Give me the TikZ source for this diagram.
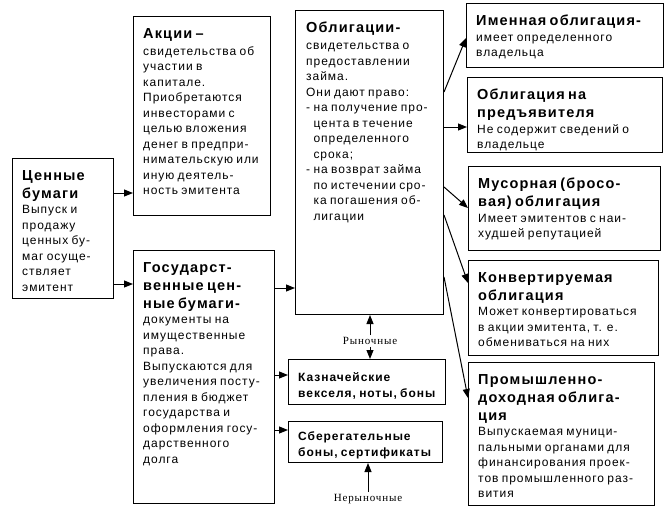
\documentclass[tikz,border=0pt]{standalone}
\usepackage{fontspec}
\setmainfont{Liberation Sans}[LetterSpace=8]
\newfontfamily\serfont{Liberation Serif}[LetterSpace=8]
\usetikzlibrary{arrows.meta}
\newcommand\ttl{\bfseries\fontsize{14.5}{18}\selectfont}
\newcommand\bdy{\normalfont\fontsize{12}{15.5}\selectfont}
\newcommand\bld{\bfseries\fontsize{12}{16}\selectfont}
\newcommand\ind{\hphantom{-\ }}
\tikzset{
  box/.style n args={2}{draw, line width=1pt, anchor=north west, inner sep=0pt,
    minimum width=#1, minimum height=#2},
  txt/.style={anchor=north west, inner sep=0pt, text width=300pt, align=left},
  arr/.style={line width=1pt, -{Triangle[length=9pt,width=7pt]}},
  lbl/.style={inner sep=2pt, font=\serfont\fontsize{11}{13}\selectfont},
}
\begin{document}
\begin{tikzpicture}[x=1pt,y=-1pt]
\useasboundingbox[fill=white] (0,0) rectangle (666,507);
% boxes
\node[box={101pt}{140pt}] (a) at (12,158) {};
\node[box={137pt}{199pt}] (b) at (133,16) {};
\node[box={141pt}{253pt}] (c) at (133,250) {};
\node[box={148pt}{304pt}] (d) at (295,10) {};
\node[box={157pt}{45pt}] (e) at (288,359) {};
\node[box={154pt}{41pt}] (f) at (288,421) {};
\node[box={197pt}{64pt}] (g) at (466,3) {};
\node[box={195pt}{75pt}] (h) at (467,77) {};
\node[box={192pt}{84pt}] (i) at (468,166) {};
\node[box={190pt}{95pt}] (j) at (468,260) {};
\node[box={186pt}{143pt}] (k) at (468,362) {};
% texts
\node[txt] (at) at ([shift={(10pt,-12pt)}]a.north west)
 {{\ttl Ценные\\бумаги\par}{\bdy Выпуск и\\продажу\\ценных бу-\\маг осуще-\\ствляет\\эмитент\par}};
\node[txt] (bt) at ([shift={(10pt,-12pt)}]b.north west)
 {{\ttl Акции –\par}{\bdy\vspace{1.5pt}свидетельства об\\участии в\\капитале.\\Приобретаются\\инвесторами с\\целью вложения\\денег в предпри-\\нимательскую или\\иную деятель-\\ность эмитента\par}};
\node[txt] (ct) at ([shift={(10pt,-12pt)}]c.north west)
 {{\ttl Государст-\\венные цен-\\ные бумаги-\par}{\bdy документы на\\имущественные\\права.\\Выпускаются для\\увеличения посту-\\пления в бюджет\\государства и\\оформления госу-\\дарственного\\долга\par}};
\node[txt] (dt) at ([shift={(11pt,-12pt)}]d.north west)
 {{\ttl Облигации-\par}{\bdy\vspace{1.5pt}свидетельства о\\предоставлении\\займа.\\Они дают право:\\- на получение про-\\\ind цента в течение\\\ind определенного\\\ind срока;\\- на возврат займа\\\ind по истечении сро-\\\ind ка погашения об-\\\ind лигации\par}};
\node[txt] (et) at ([shift={(10pt,-13pt)}]e.north west)
 {{\bld Казначейские\\векселя, ноты, боны\par}};
\node[txt] (ft) at ([shift={(10pt,-10pt)}]f.north west)
 {{\bld Сберегательные\\боны, сертификаты\par}};
\node[txt] (gt) at ([shift={(10pt,-12pt)}]g.north west)
 {{\ttl Именная облигация-\par}{\bdy имеет определенного\\владельца\par}};
\node[txt] (ht) at ([shift={(10pt,-12pt)}]h.north west)
 {{\ttl Облигация на\\предъявителя\par}{\bdy Не содержит сведений о\\владельце\par}};
\node[txt] (it) at ([shift={(10pt,-12pt)}]i.north west)
 {{\ttl Мусорная (бросо-\\вая) облигация\par}{\bdy Имеет эмитентов с наи-\\худшей репутацией\par}};
\node[txt] (jt) at ([shift={(10pt,-12pt)}]j.north west)
 {{\ttl Конвертируемая\\облигация\par}{\bdy Может конвертироваться\\в акции эмитента, т. е.\\обмениваться на них\par}};
\node[txt] (kt) at ([shift={(10pt,-12pt)}]k.north west)
 {{\ttl Промышленно-\\доходная облига-\\ция\par}{\bdy Выпускаемая муници-\\пальными органами для\\финансирования проек-\\тов промышленного раз-\\вития\par}};
% labels
\node[lbl] (ryn) at (370,341) {Рыночные};
\node[lbl] (nryn) at (368,499) {Нерыночные};
% connectors
\draw[arr] ([yshift=-35pt]a.north east) coordinate (p1) -- (p1 -| b.west);
\draw[arr] ([yshift=-126pt]a.north east) coordinate (p2) -- (p2 -| c.west);
\draw[arr] ([yshift=-38pt]c.north east) coordinate (p3) -- (p3 -| d.west);
\draw[arr] ([yshift=-125pt]c.north east) coordinate (p4) -- (p4 -| e.west);
\draw[arr] ([yshift=-180pt]c.north east) coordinate (p5) -- (p5 -| f.west);
\draw[arr] ([yshift=-82pt]d.north east) -- ([yshift=-35pt]g.north west);
\draw[arr] ([yshift=-117pt]d.north east) coordinate (p6) -- (p6 -| h.west);
\draw[arr] ([yshift=-177pt]d.north east) -- ([yshift=-42pt]i.north west);
\draw[arr] ([yshift=-205pt]d.north east) -- ([yshift=-23pt]j.north west);
\draw[arr] ([yshift=-267pt]d.north east) -- ([yshift=-36pt]k.north west);
\draw[arr] (ryn.north) -- (ryn.north |- d.south);
\draw[arr] (ryn.south) -- (ryn.south |- e.north);
\draw[arr] (nryn.north) -- (nryn.north |- f.south);
\end{tikzpicture}
\end{document}
